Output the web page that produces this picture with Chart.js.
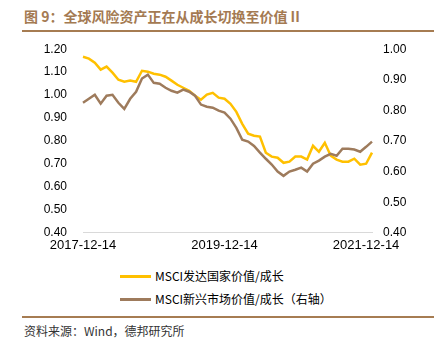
<!DOCTYPE html>
<html>
<head>
<meta charset="utf-8">
<script src="https://cdn.jsdelivr.net/npm/chart.js@4.4.0/dist/chart.umd.min.js"></script>
<style>
body{margin:0;background:#fff;width:436px;height:344px;position:relative;overflow:hidden;font-family:"Noto Sans CJK SC",sans-serif;}
#title{position:absolute;left:24px;top:7px;font-size:14px;line-height:18px;font-weight:bold;color:#a47a52;white-space:nowrap;}
.rule{position:absolute;left:22px;width:412px;height:2px;background:#a67c52;}
#wrap{position:absolute;left:0;top:26px;width:436px;height:230px;}
.leg{position:absolute;left:120px;font-size:12px;line-height:16px;color:#000;display:flex;align-items:center;white-space:nowrap;}
.leg span{display:inline-block;width:31px;height:3px;margin-right:4px;}
#src{position:absolute;left:24px;top:323px;font-size:12px;line-height:16px;color:#333;white-space:nowrap;}
</style>
</head>
<body>
<div id="title">图 9：全球风险资产正在从成长切换至价值 II</div>
<div class="rule" style="top:30px"></div>
<div id="wrap"><canvas id="myChart"></canvas></div>
<div class="leg" style="top:268px"><span style="background:#ffc000"></span>MSCI发达国家价值/成长</div>
<div class="leg" style="top:291px"><span style="background:#9e7b5c"></span>MSCI新兴市场价值/成长（右轴）</div>
<div class="rule" style="top:316px"></div>
<div id="src">资料来源：Wind，德邦研究所</div>
<script>
const dates = [
  '2017-12-14','2018-01-14','2018-02-14','2018-03-14','2018-04-14','2018-05-14','2018-06-14',
  '2018-07-14','2018-08-14','2018-09-14','2018-10-14','2018-11-14','2018-12-14',
  '2019-01-14','2019-02-14','2019-03-14','2019-04-14','2019-05-14','2019-06-14',
  '2019-07-14','2019-08-14','2019-09-14','2019-10-14','2019-11-14','2019-12-14',
  '2020-01-14','2020-02-14','2020-03-14','2020-04-14','2020-05-14','2020-06-14',
  '2020-07-14','2020-08-14','2020-09-14','2020-10-14','2020-11-14','2020-12-14',
  '2021-01-14','2021-02-14','2021-03-14','2021-04-14','2021-05-14','2021-06-14',
  '2021-07-14','2021-08-14','2021-09-14','2021-10-14','2021-11-14','2021-12-14','2021-12-28'
];
const tickDates = ['2017-12-14', '2019-12-14', '2021-12-14'];

// MSCI developed value/growth (left axis)
const developed = [1.167,1.159,1.141,1.111,1.124,1.098,1.067,1.058,1.063,1.058,
  1.106,1.102,1.093,1.089,1.080,1.063,1.045,1.032,1.019,0.997,
  0.980,1.002,1.010,0.989,0.984,0.962,0.927,0.875,0.832,0.823,
  0.819,0.749,0.732,0.727,0.705,0.710,0.732,0.732,0.719,0.779,
  0.753,0.792,0.736,0.719,0.710,0.710,0.723,0.697,0.701,0.749];

// MSCI emerging value/growth (right axis)
const emerging = [0.825,0.838,0.851,0.822,0.848,0.851,0.825,0.805,0.838,0.861,
  0.904,0.917,0.890,0.887,0.874,0.864,0.858,0.868,0.861,0.848,
  0.819,0.812,0.809,0.799,0.793,0.773,0.743,0.704,0.698,0.684,
  0.662,0.642,0.623,0.600,0.586,0.600,0.606,0.613,0.600,0.626,
  0.636,0.649,0.658,0.652,0.675,0.675,0.672,0.665,0.681,0.698];

const tickFont = {family: 'Liberation Sans', size: 12};

const ctx = document.getElementById('myChart');

const myChart = new Chart(ctx, {
    type: 'line',
    data: {
        labels: dates,
        datasets: [{
            label: 'MSCI发达国家价值/成长',
            data: developed,
            borderColor: '#ffc000',
            borderWidth: 2.5,
            pointRadius: 0,
            yAxisID: 'y',
            order: 1
        }, {
            label: 'MSCI新兴市场价值/成长（右轴）',
            data: emerging,
            borderColor: '#9e7b5c',
            borderWidth: 2.5,
            pointRadius: 0,
            yAxisID: 'y1',
            order: 0
        }]
    },
    options: {
        responsive: true,
        maintainAspectRatio: false,
        animation: false,
        layout: {padding: {top: 3, bottom: 0, left: 0, right: 0}},
        plugins: {
            legend: {display: false},
            tooltip: {enabled: false}
        },
        scales: {
            x: {
                grid: {display: false, drawTicks: false},
                border: {color: '#d9d9d9'},
                ticks: {
                    autoSkip: false,
                    maxRotation: 0,
                    minRotation: 0,
                    padding: 5,
                    color: '#000',
                    font: {family: 'Liberation Sans', size: 13},
                    callback: function(v) {
                        const l = this.getLabelForValue(v);
                        return tickDates.includes(l) ? l : '';
                    }
                },
                afterFit: s => { s.height = 22; }
            },
            y: {
                position: 'left',
                min: 0.4,
                max: 1.2,
                grid: {display: false, drawTicks: false},
                border: {display: false},
                ticks: {stepSize: 0.1, padding: 16, color: '#000', font: tickFont,
                    callback: v => v.toFixed(2)},
                afterFit: s => { s.width = 83; }
            },
            y1: {
                position: 'right',
                min: 0.4,
                max: 1.0,
                grid: {display: false, drawTicks: false},
                border: {display: false},
                ticks: {stepSize: 0.1, padding: 11, color: '#000', font: tickFont,
                    callback: v => v.toFixed(2)},
                afterFit: s => { s.width = 64; }
            }
        }
    }
});
</script>
</body>
</html>
